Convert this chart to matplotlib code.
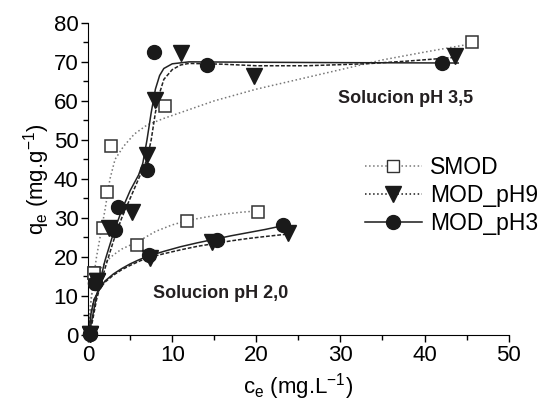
import numpy as np
import matplotlib.pyplot as plt
from matplotlib.lines import Line2D

plt.rcParams['font.family'] = ['Liberation Sans', 'DejaVu Sans']
plt.rcParams['mathtext.fontset'] = 'custom'
plt.rcParams['mathtext.rm'] = 'Liberation Sans'

# measured points, pH 3,5
smod_35_x = [0.75, 1.8, 2.2, 2.7, 9.1, 45.7]
smod_35_y = [15.8, 27.3, 36.7, 48.5, 58.7, 75.0]
ph9_35_x = [0.2, 1.0, 2.5, 5.2, 7.0, 8.0, 11.1, 19.7, 43.6]
ph9_35_y = [0.3, 13.7, 27.4, 31.6, 46.2, 60.3, 72.2, 66.4, 71.4]
ph3_35_x = [0.2, 0.8, 3.2, 3.6, 7.0, 7.8, 14.1, 42.1]
ph3_35_y = [0.3, 13.2, 26.9, 32.9, 42.3, 72.5, 69.2, 69.7]

# measured points, pH 2,0
smod_20_x = [0.75, 5.8, 11.8, 20.2]
smod_20_y = [15.8, 23.1, 29.3, 31.6]
ph9_20_x = [0.2, 1.0, 7.4, 14.7, 23.8]
ph9_20_y = [0.3, 13.7, 19.7, 23.9, 26.1]
ph3_20_x = [0.2, 0.8, 7.2, 15.3, 23.2]
ph3_20_y = [0.3, 13.2, 20.5, 24.4, 28.2]

# fitted curves
fit_smod_35_x = [0.05, 0.3, 0.6, 1.0, 1.5, 2.0, 2.6, 3.2, 4.2, 5.5, 7.0, 9.0, 11, 15, 20, 25, 30, 35, 40, 45.5]
fit_smod_35_y = [0, 8, 14, 20, 26, 32, 40, 45, 48.3, 51.5, 53.8, 55.5, 57, 60, 63, 65.5, 68, 70.5, 72.5, 74.6]
fit_ph9_35_x = [0.2, 1, 2, 3, 4, 5, 6, 7, 7.5, 8, 8.5, 9, 10, 11, 12, 16, 20, 26, 33, 38, 44]
fit_ph9_35_y = [0, 9, 17, 24, 30, 35, 40, 45, 50, 57, 62, 65.5, 68, 69.2, 69.6, 69.4, 69.0, 69.0, 69.5, 70.2, 71.2]
fit_ph3_35_x = [0.1, 1, 2, 3, 4, 5, 6, 6.5, 7, 7.5, 8, 8.5, 9, 10, 12, 20, 30, 44]
fit_ph3_35_y = [0, 10, 19, 26, 32, 37, 41, 44, 50, 57, 63, 66.5, 68.3, 69.5, 70, 69.9, 69.8, 69.7]

fit_smod_20_x = [0.05, 0.3, 0.6, 1, 2, 3, 4, 5, 6, 8, 10, 12, 14, 16, 18, 20.2]
fit_smod_20_y = [0, 8, 13, 15.5, 18.5, 20.5, 22, 23, 24, 26.5, 28.2, 29.4, 30.2, 30.9, 31.4, 31.8]
fit_ph9_20_x = [0.1, 0.3, 0.7, 1.4, 2, 3, 4, 5, 6, 7, 9, 11, 13, 15, 17, 19, 21, 23.6]
fit_ph9_20_y = [0, 5, 9, 11.8, 13.5, 15.3, 16.7, 17.8, 18.8, 19.7, 20.8, 21.8, 22.7, 23.4, 24.1, 24.7, 25.2, 25.8]
fit_ph3_20_x = [0.1, 0.3, 0.7, 1.4, 2, 3, 4, 5, 6, 7, 9, 11, 13, 15, 17, 19, 21, 23.2]
fit_ph3_20_y = [0, 5, 9, 12, 13.8, 15.6, 17, 18.2, 19.2, 20.1, 21.4, 22.6, 23.6, 24.5, 25.4, 26.2, 27, 28]

labels = ['SMOD', 'MOD_pH9', 'MOD_pH3']

fig = plt.figure(figsize=(5.44, 4.01), dpi=100)
ax = fig.add_axes([0.162, 0.165, 0.773, 0.778])

dot = dict(color='#777777', ls=':', lw=1.1)
dash = dict(color='#222222', ls=(0, (2.5, 1.2)), lw=1.1)
sol = dict(color='#222222', ls='-', lw=1.1)

ax.plot(fit_smod_35_x, fit_smod_35_y, **dot)
ax.plot(fit_smod_20_x, fit_smod_20_y, **dot)
ax.plot(fit_ph9_35_x, fit_ph9_35_y, **dash)
ax.plot(fit_ph9_20_x, fit_ph9_20_y, **dash)
ax.plot(fit_ph3_35_x, fit_ph3_35_y, **sol)
ax.plot(fit_ph3_20_x, fit_ph3_20_y, **sol)

sq = dict(ls='none', marker='s', ms=8.5, mfc='white', mec='#333333', mew=1.1, clip_on=False, zorder=3)
tri = dict(ls='none', marker='v', ms=11, color='#1a1a1a', clip_on=False, zorder=3)
cir = dict(ls='none', marker='o', ms=10, color='#1a1a1a', clip_on=False, zorder=3)
ax.plot(smod_35_x, smod_35_y, **sq)
ax.plot(smod_20_x, smod_20_y, **sq)
ax.plot(ph9_35_x, ph9_35_y, **tri)
ax.plot(ph9_20_x, ph9_20_y, **tri)
ax.plot(ph3_35_x, ph3_35_y, **cir)
ax.plot(ph3_20_x, ph3_20_y, **cir)

ax.text(37.7, 60.5, 'Solucion pH 3,5', fontsize=13, fontweight='bold', ha='center', va='center', color='#231f20')
ax.text(15.8, 10.5, 'Solucion pH 2,0', fontsize=13, fontweight='bold', ha='center', va='center', color='#231f20')

handles = [
    Line2D([], [], color='#777777', ls=':', lw=1.1, marker='s', ms=8.5, mfc='white', mec='#333333'),
    Line2D([], [], color='#1a1a1a', ls=':', lw=1.1, marker='v', ms=11),
    Line2D([], [], color='#1a1a1a', ls='-', lw=1.1, marker='o', ms=10),
]
ax.legend(handles, labels, loc='upper left', bbox_to_anchor=(0.63, 0.61), frameon=False,
          fontsize=16.5, handlelength=2.5, handletextpad=0.35, labelspacing=0.22, borderpad=0)

ax.set_xlim(0, 50)
ax.set_ylim(0, 80)
ax.set_xticks([0, 10, 20, 30, 40, 50])
ax.set_yticks([0, 10, 20, 30, 40, 50, 60, 70, 80])
ax.set_xticks([5, 15, 25, 35, 45], minor=True)
ax.set_yticks([5, 15, 25, 35, 45, 55, 65, 75], minor=True)
ax.spines['top'].set_visible(False)
ax.spines['right'].set_visible(False)
ax.tick_params(which='major', direction='out', length=5, width=1, labelsize=16, pad=2)
ax.tick_params(which='minor', direction='out', length=3.5, width=1)
ax.set_xlabel(r'c$_\mathregular{e}$ (mg.L$^\mathregular{-1}$)', fontsize=16, labelpad=4)
ax.set_ylabel(r'q$_\mathregular{e}$ (mg.g$^\mathregular{-1}$)', fontsize=16, labelpad=1)

plt.savefig('out.png', dpi=100)
